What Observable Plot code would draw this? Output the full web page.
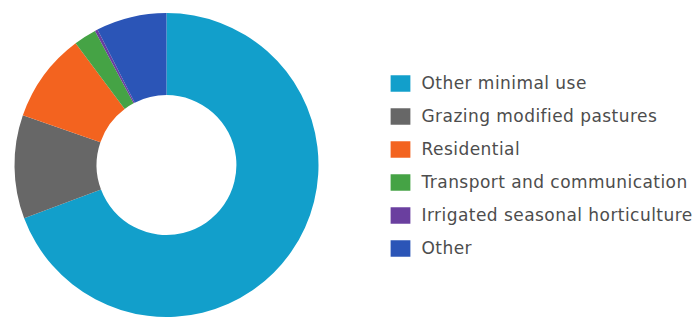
<!DOCTYPE html>
<html>
<head>
<meta charset="utf-8">
<script src="https://cdn.jsdelivr.net/npm/d3@7"></script>
<script src="https://cdn.jsdelivr.net/npm/@observablehq/plot@0.6"></script>
<style>
  html, body { margin: 0; padding: 0; background: #fff; }
  #chart { position: relative; width: 699px; height: 320px; overflow: hidden; }
  #donut { position: absolute; left: 0; top: 0; }
  #legend { position: absolute; left: 380px; top: 0; }
  #legend text { letter-spacing: 0.45px; }
</style>
</head>
<body>
<div id="chart"><div id="donut"></div><div id="legend"></div></div>
<script>
const categories = ["Other minimal use", "Grazing modified pastures", "Residential", "Transport and communication", "Irrigated seasonal horticulture", "Other"];
const shares = [69.3, 11.0, 9.5, 2.4, 0.3, 7.5];
const colors = ["#129fcb", "#676767", "#f3631f", "#45a345", "#6a3f9f", "#2b55b7"];

const data = categories.map((category, i) => ({category, value: shares[i]}));
const innerRatio = 0.46;

const donut = Plot.plot({
  width: 335,
  height: 320,
  marginLeft: 14.5,
  marginRight: 16.5,
  marginTop: 13,
  marginBottom: 3,
  x: {domain: [-1, 1], axis: null},
  y: {domain: [-1, 1], axis: null},
  color: {domain: categories, range: colors},
  style: {background: "white"},
  marks: [
    Plot.dot(data, {x: 0, y: 0, r: 0, fill: "category"}),
    (index, scales) => {
      const color = scales.color || d3.scaleOrdinal(categories, colors);
      const cx = scales.x(0), cy = scales.y(0);
      const R = scales.x(1) - cx;
      const arcs = d3.pie().sort(null).value(d => d.value)(data);
      const arc = d3.arc().innerRadius(R * innerRatio).outerRadius(R);
      const g = d3.create("svg:g").attr("transform", `translate(${cx},${cy})`);
      g.selectAll("path").data(arcs).join("path")
        .attr("d", arc)
        .attr("fill", d => color(d.data.category));
      return g.node();
    }
  ]
});
document.getElementById("donut").append(donut);

const swatch = {
  draw(context, size) {
    const s = Math.sqrt(size);
    context.rect(-s * 0.6, -s * 0.5, s * 1.2, s);
  }
};

const legend = Plot.plot({
  width: 319,
  height: 320,
  marginLeft: 20,
  marginRight: 0,
  marginTop: 82,
  marginBottom: 72,
  x: {domain: [0, 1], axis: null},
  y: {type: "point", domain: categories, padding: 0, axis: null},
  color: {domain: categories, range: colors},
  style: {background: "transparent"},
  marks: [
    Plot.dot(categories, {x: 0, y: d => d, fill: d => d, symbol: swatch, r: 9.3, stroke: null}),
    Plot.text(categories, {x: 0, y: d => d, text: d => d, dx: 21, textAnchor: "start", fill: "#4d4d4d", fontSize: 17, fontFamily: "DejaVu Sans"})
  ]
});
document.getElementById("legend").append(legend);
</script>
</body>
</html>
